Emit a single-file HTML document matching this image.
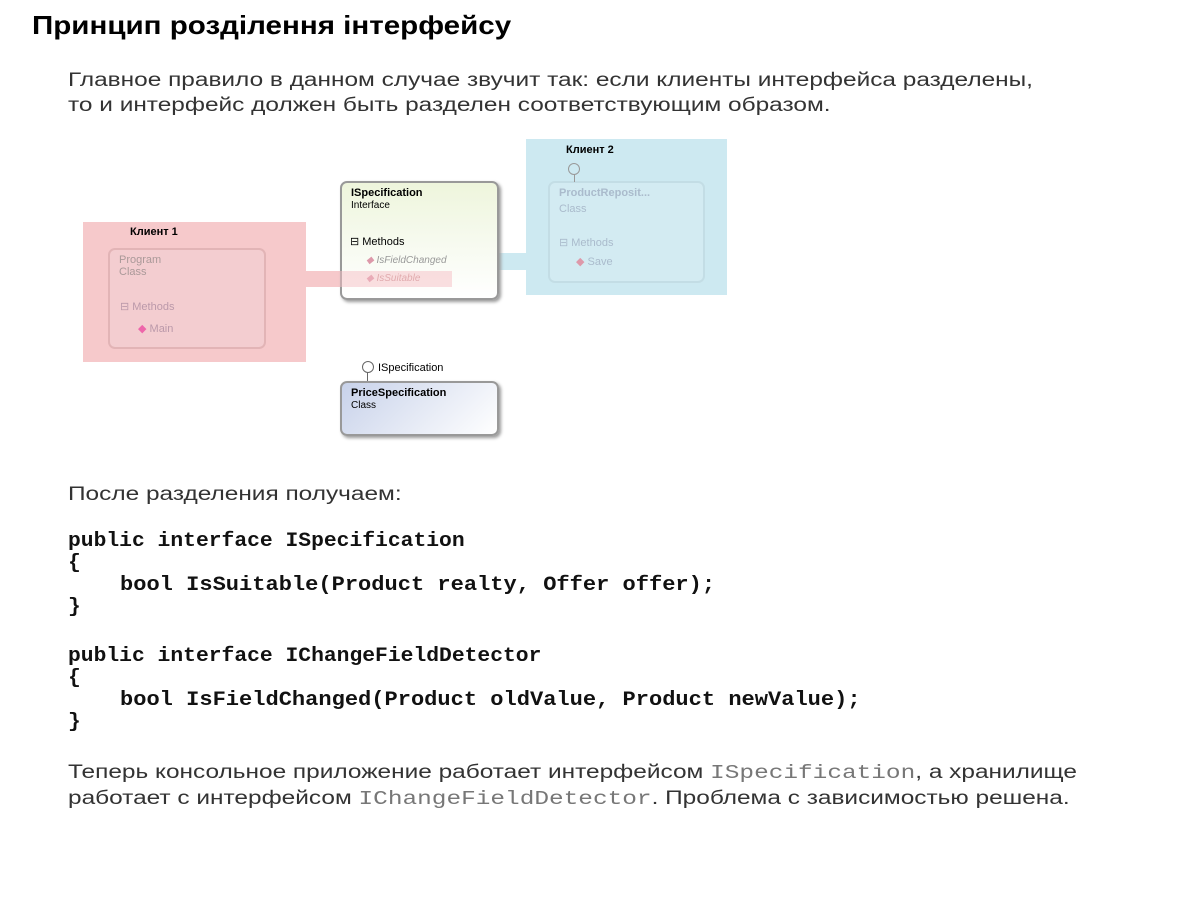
<!DOCTYPE html>
<html><head><meta charset="utf-8"><style>
body{margin:0;width:1196px;height:897px;background:#fff;position:relative;overflow:hidden;font-family:"Liberation Sans",sans-serif;color:#222}
.a{position:absolute;white-space:nowrap}
.t{font-size:19px;color:#333;transform:scaleX(1.285);transform-origin:0 0}
.c{font-family:"Liberation Mono",monospace;font-weight:bold;font-size:20.5px;color:#111;transform:scaleX(1.04);transform-origin:0 0}
.c.b{transform:scaleX(1.075)}
.m{font-family:"Liberation Mono",monospace;color:#777;font-size:19px}
.box{position:absolute;border:2px solid #aaa;border-radius:7px;box-shadow:2px 2px 3px #999;font-size:11px}
.s{font-size:11px}
</style></head><body>
<div class="a" style="left:32px;top:10px;font-size:26px;font-weight:bold;color:#000;transform:scaleX(1.137);transform-origin:0 0">Принцип розділення інтерфейсу</div>
<div class="a t" style="left:68px;top:70px">Главное правило в данном случае звучит так: если клиенты интерфейса разделены,</div>
<div class="a t" style="left:68px;top:95px">то и интерфейс должен быть разделен соответствующим образом.</div>

<div class="a" style="left:83px;top:222px;width:223px;height:140px;background:#f6c9cb"></div>
<div class="a" style="left:526px;top:139px;width:201px;height:156px;background:#cde9f1"></div>
<div class="a" style="left:306px;top:271px;width:146px;height:16px;background:#f6c9cb"></div>
<div class="a" style="left:356px;top:253px;width:170px;height:17px;background:#cde9f1"></div>

<div class="a s" style="left:130px;top:226px;font-weight:bold;color:#000">Клиент 1</div>
<div class="a s" style="left:566px;top:144px;font-weight:bold;color:#000">Клиент 2</div>

<div class="box" style="left:108px;top:248px;width:154px;height:97px;border-color:#e2b4b6;background:#f3cdd0;box-shadow:none">
<div style="padding:4px 9px;color:#a99">Program<br>Class</div>
<div style="position:absolute;top:50px;left:10px;color:#b9a">⊟ Methods</div>
<div style="position:absolute;top:72px;left:28px;color:#b9a"><span style="color:#e6a">◆</span> Main</div></div>

<div class="box" style="left:548px;top:181px;width:153px;height:98px;border-color:#c3dde5;background:#d3ebf2;box-shadow:none">
<div style="padding:4px 9px;color:#abc;font-weight:bold">ProductReposit...</div>
<div style="position:absolute;top:20px;left:9px;color:#abc">Class</div>
<div style="position:absolute;top:53px;left:9px;color:#abc">⊟ Methods</div>
<div style="position:absolute;top:72px;left:26px;color:#abc"><span style="color:#d9a">◆</span> Save</div></div>
<div class="a" style="left:568px;top:163px;width:10px;height:10px;border:1px solid #999;border-radius:50%"></div>
<div class="a" style="left:574px;top:174px;width:1px;height:8px;background:#999"></div>

<div class="box" style="left:340px;top:181px;width:155px;height:115px;border-color:#999;background:linear-gradient(#eef5dc,#f8fbf2 60%,#fff)">
<div style="padding:4px 9px;color:#000"><b>ISpecification</b><br><span style="font-size:10px">Interface</span></div>
<div style="position:absolute;top:52px;left:8px;color:#000">⊟ Methods</div>
<div style="position:absolute;top:72px;left:24px;color:#999;font-style:italic;font-size:10px"><span style="color:#d9a">◆</span> IsFieldChanged</div>
<div style="position:absolute;top:90px;left:24px;color:#c99;font-style:italic;font-size:10px"><span style="color:#d9a">◆</span> IsSuitable</div></div>
<div class="a" style="left:340px;top:271px;width:112px;height:16px;background:rgba(246,190,195,.5)"></div>

<div class="a" style="left:362px;top:361px;width:10px;height:10px;border:1px solid #666;border-radius:50%"></div>
<div class="a" style="left:367px;top:372px;width:1px;height:10px;background:#666"></div>
<div class="a s" style="left:378px;top:362px;color:#000">ISpecification</div>
<div class="box" style="left:340px;top:381px;width:155px;height:51px;border-color:#999;background:linear-gradient(135deg,#c8d2ea,#fff)">
<div style="padding:4px 9px;color:#000"><b>PriceSpecification</b><br><span style="font-size:10px">Class</span></div></div>

<div class="a t" style="left:68px;top:484px">После разделения получаем:</div>
<div class="a c" style="left:68px;top:530px">public interface ISpecification</div>
<div class="a c" style="left:68px;top:552px">{</div>
<div class="a c b" style="left:120px;top:574px">bool IsSuitable(Product realty, Offer offer);</div>
<div class="a c" style="left:68px;top:596px">}</div>
<div class="a c" style="left:68px;top:645px">public interface IChangeFieldDetector</div>
<div class="a c" style="left:68px;top:667px">{</div>
<div class="a c b" style="left:120px;top:689px">bool IsFieldChanged(Product oldValue, Product newValue);</div>
<div class="a c" style="left:68px;top:711px">}</div>
<div class="a t" style="left:68px;top:762px">Теперь консольное приложение работает интерфейсом <span class="m">ISpecification</span>, а хранилище</div>
<div class="a t" style="left:68px;top:788px">работает с интерфейсом <span class="m">IChangeFieldDetector</span>. Проблема с зависимостью решена.</div>
</body></html>
